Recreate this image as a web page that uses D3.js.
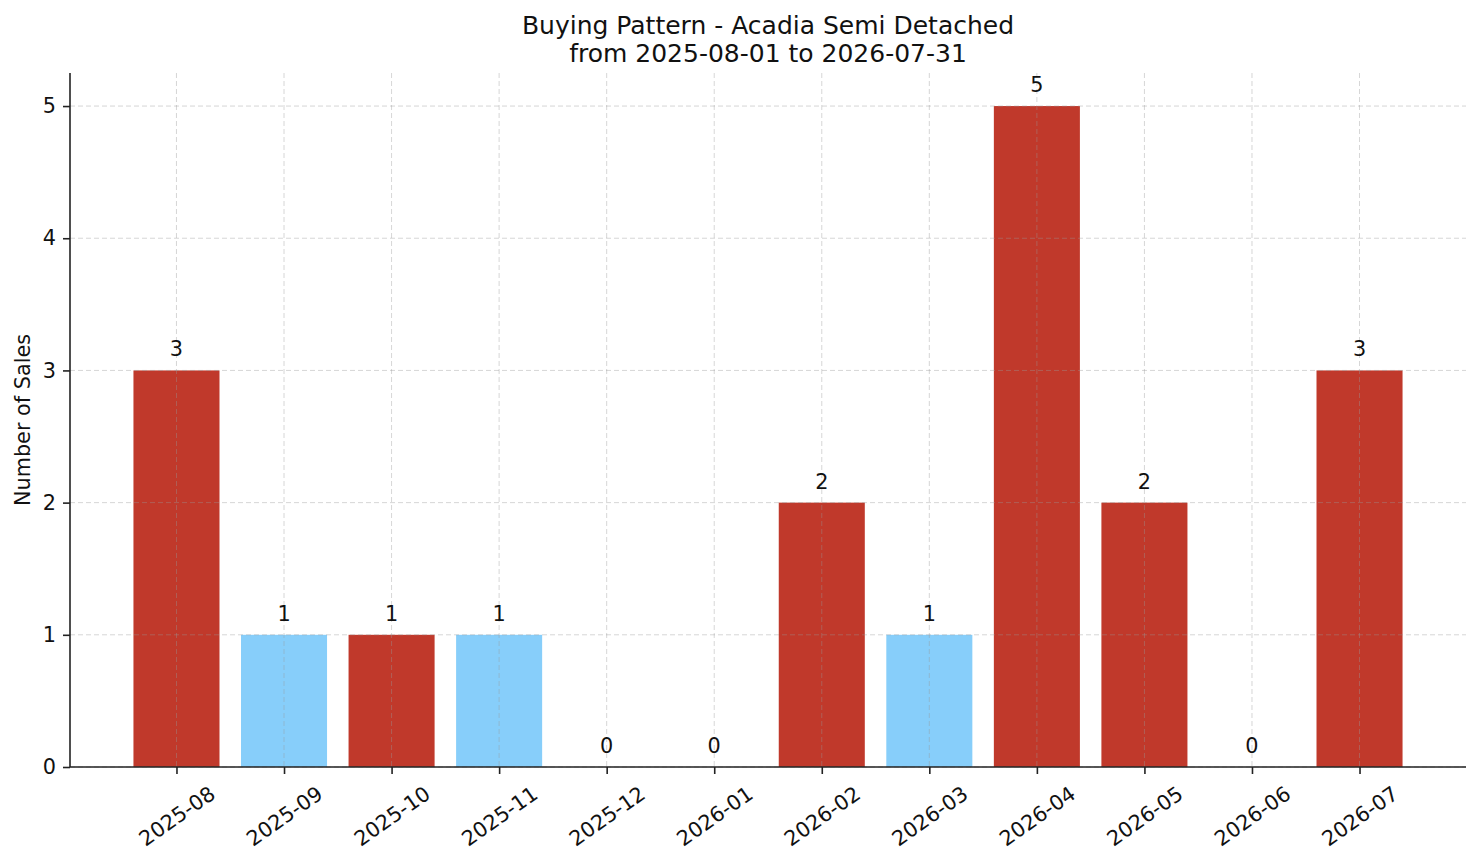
<!DOCTYPE html>
<html>
<head>
<meta charset="utf-8">
<script src="https://cdn.jsdelivr.net/npm/d3@7"></script>
<style>
  body { margin: 0; background: #fff; }
  svg, svg text { font-family: "DejaVu Sans", sans-serif; }
</style>
</head>
<body>
<svg id="chart"></svg>
<script>
const months = ["2025-08", "2025-09", "2025-10", "2025-11", "2025-12", "2026-01",
                "2026-02", "2026-03", "2026-04", "2026-05", "2026-06", "2026-07"];
const sales = [3, 1, 1, 1, 0, 0, 2, 1, 5, 2, 0, 3];
// which bars are drawn in the light colour
const lightBars = [false, true, false, true, false, false, false, true, false, false, false, false];
const yTicks = [0, 1, 2, 3, 4, 5];

const width = 1481, height = 863;
const margin = { top: 73, right: 15, bottom: 96, left: 70 };
const fs = 20.8;

const svg = d3.select("#chart")
    .attr("width", width)
    .attr("height", height);

// matplotlib style: bar width 0.8, 5% margins
const x = d3.scaleLinear()
    .domain([-0.99, months.length - 1 + 0.99])
    .range([margin.left, width - margin.right]);
const barW = x(0.4) - x(-0.4);

const y = d3.scaleLinear()
    .domain([0, 5.25])
    .range([height - margin.bottom, margin.top]);

// bars
svg.append("g")
    .selectAll("rect")
    .data(sales)
    .join("rect")
    .attr("x", (d, i) => x(i) - barW / 2)
    .attr("y", d => y(d))
    .attr("width", barW)
    .attr("height", d => y(0) - y(d))
    .attr("fill", (d, i) => lightBars[i] ? "#87cefa" : "#c0392b");

// grid, on top of bars
const grid = svg.append("g")
    .attr("stroke", "#999")
    .attr("stroke-opacity", 0.4)
    .attr("stroke-width", 1)
    .attr("stroke-dasharray", "5,3");
grid.selectAll("line.h")
    .data(yTicks)
    .join("line")
    .attr("class", "h")
    .attr("x1", margin.left).attr("x2", width - margin.right)
    .attr("y1", d => y(d)).attr("y2", d => y(d));
grid.selectAll("line.v")
    .data(months)
    .join("line")
    .attr("class", "v")
    .attr("x1", (d, i) => x(i)).attr("x2", (d, i) => x(i))
    .attr("y1", margin.top).attr("y2", height - margin.bottom);

// value labels
svg.append("g")
    .selectAll("text")
    .data(sales)
    .join("text")
    .attr("x", (d, i) => x(i))
    .attr("y", d => y(d) - 14)
    .attr("text-anchor", "middle")
    .style("font-size", fs + "px")
    .attr("fill", "#111")
    .text(d => d);

// axes
const xAxis = svg.append("g")
    .attr("transform", `translate(0,${height - margin.bottom})`)
    .call(d3.axisBottom(x).tickValues(d3.range(months.length))
        .tickFormat(i => months[i]).tickSize(7).tickSizeOuter(0));
xAxis.attr("font-family", null).attr("font-size", null);
xAxis.select(".domain").attr("d", `M${margin.left},0H${width - margin.right}`)
    .attr("stroke", "#222").attr("stroke-width", 1.6);
xAxis.selectAll(".tick line").attr("stroke", "#222").attr("stroke-width", 1.6);
xAxis.selectAll(".tick text")
    .style("font-size", fs + "px")
    .attr("fill", "#111")
    .attr("text-anchor", "middle")
    .attr("transform", "translate(0,49) rotate(-35)")
    .attr("dy", "0.35em")
    .attr("y", 0);

const yAxis = svg.append("g")
    .attr("transform", `translate(${margin.left},0)`)
    .call(d3.axisLeft(y).tickValues(yTicks).tickFormat(d3.format("d")).tickSize(7).tickSizeOuter(0));
yAxis.attr("font-family", null).attr("font-size", null);
yAxis.select(".domain").attr("d", `M0,${margin.top}V${height - margin.bottom}`)
    .attr("stroke", "#222").attr("stroke-width", 1.6);
yAxis.selectAll(".tick line").attr("stroke", "#222").attr("stroke-width", 1.6);
yAxis.selectAll(".tick text").style("font-size", fs + "px").attr("fill", "#111").attr("x", -14);

// y label
svg.append("text")
    .attr("transform", `translate(30,${(margin.top + height - margin.bottom) / 2}) rotate(-90)`)
    .attr("text-anchor", "middle")
    .style("font-size", fs + "px")
    .attr("fill", "#111")
    .text("Number of Sales");

// title
const title = svg.append("text")
    .attr("text-anchor", "middle")
    .style("font-size", "25px")
    .attr("fill", "#111");
title.append("tspan").attr("x", (margin.left + width - margin.right) / 2).attr("y", 34)
    .text("Buying Pattern - Acadia Semi Detached");
title.append("tspan").attr("x", (margin.left + width - margin.right) / 2).attr("y", 62)
    .text("from 2025-08-01 to 2026-07-31");
</script>
</body>
</html>
